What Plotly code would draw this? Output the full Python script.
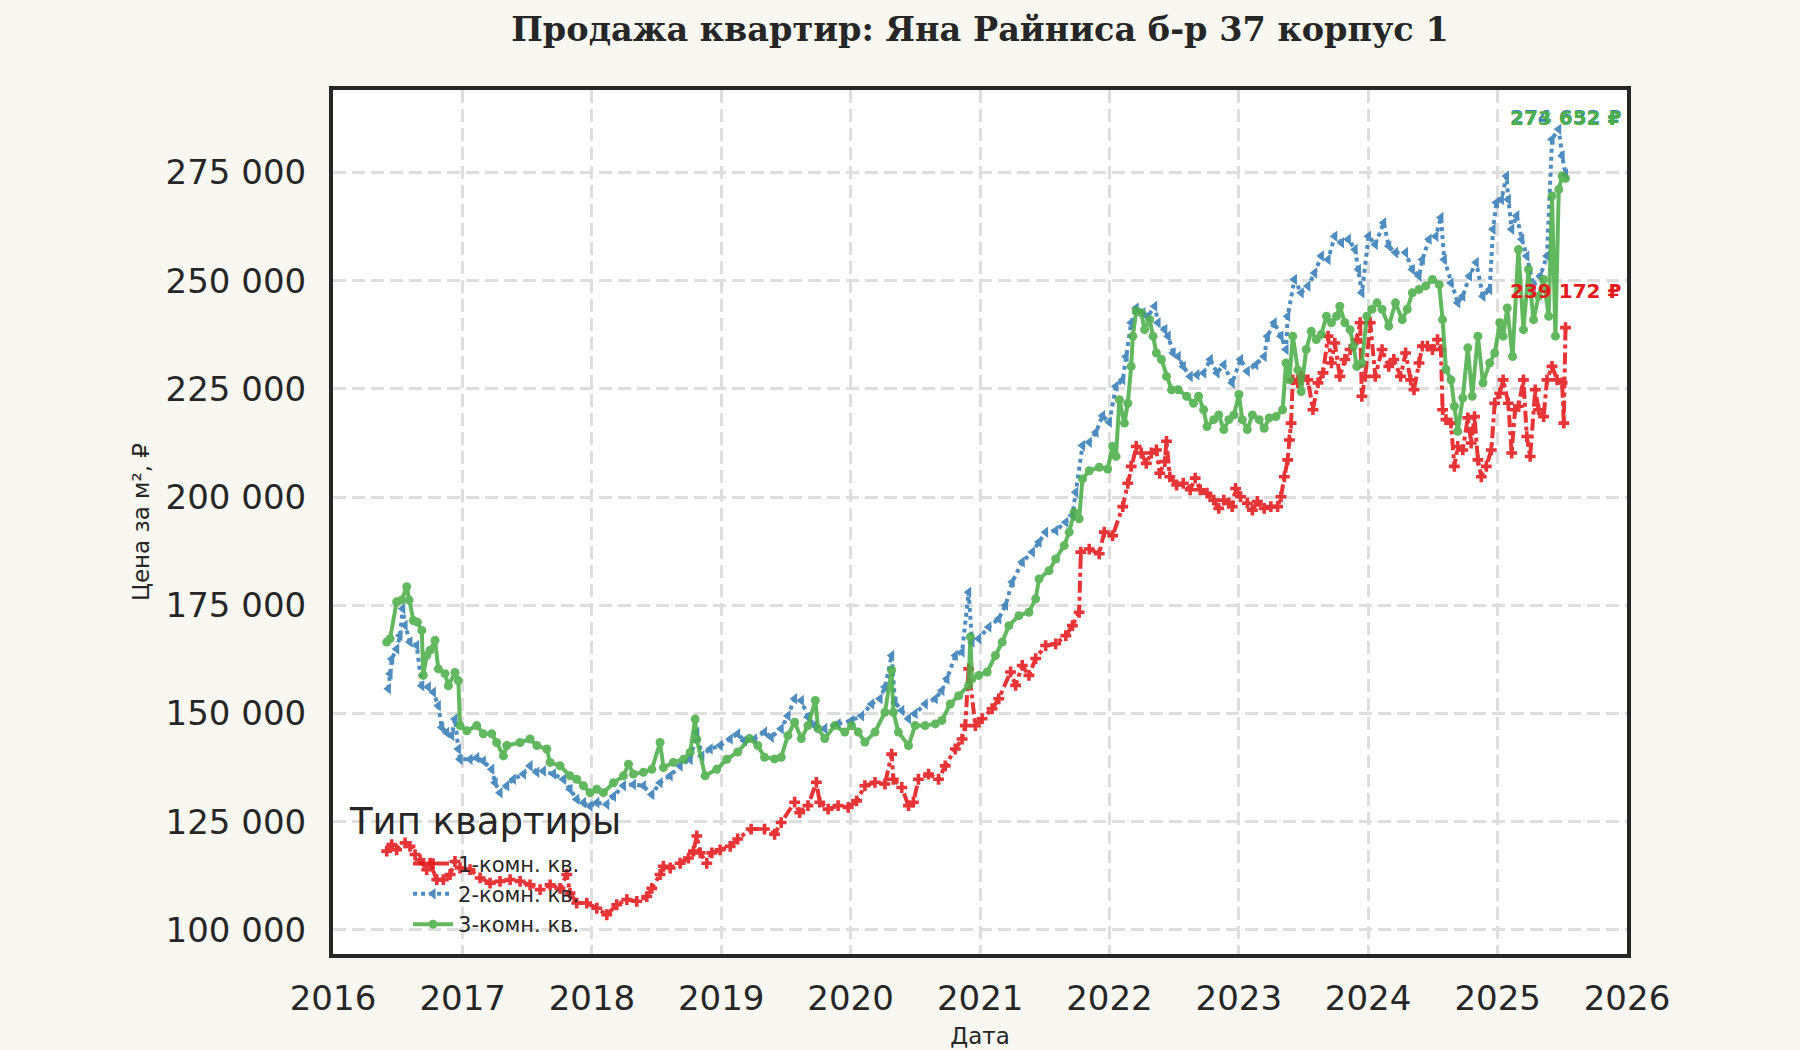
import pandas as pd
import plotly.graph_objects as go

# Цена за м² по типам квартир (время в долях года)
one_room_t = [
    2016.415, 2016.454, 2016.492, 2016.557, 2016.595, 2016.634, 2016.673, 2016.724, 2016.750, 2016.802,
    2016.853, 2016.905, 2016.943, 2016.982, 2017.059, 2017.137, 2017.214, 2017.291, 2017.369, 2017.446,
    2017.523, 2017.601, 2017.678, 2017.755, 2017.807, 2017.832, 2017.884, 2017.961, 2018.039, 2018.116,
    2018.193, 2018.271, 2018.348, 2018.425, 2018.464, 2018.528, 2018.554, 2018.606, 2018.683, 2018.747,
    2018.786, 2018.812, 2018.838, 2018.889, 2018.928, 2018.992, 2019.070, 2019.128, 2019.232, 2019.335,
    2019.413, 2019.464, 2019.568, 2019.607, 2019.671, 2019.736, 2019.762, 2019.827, 2019.904, 2019.982,
    2020.047, 2020.111, 2020.189, 2020.266, 2020.318, 2020.331, 2020.396, 2020.448, 2020.486, 2020.525,
    2020.603, 2020.680, 2020.732, 2020.810, 2020.862, 2020.887, 2020.913, 2020.965, 2021.017, 2021.094,
    2021.146, 2021.237, 2021.276, 2021.327, 2021.379, 2021.431, 2021.508, 2021.586, 2021.664, 2021.715,
    2021.767, 2021.780, 2021.845, 2021.922, 2021.961, 2022.026, 2022.104, 2022.143, 2022.169, 2022.208,
    2022.247, 2022.286, 2022.325, 2022.364, 2022.390, 2022.429, 2022.442, 2022.468, 2022.520, 2022.572,
    2022.625, 2022.664, 2022.703, 2022.755, 2022.807, 2022.846, 2022.885, 2022.924, 2022.950, 2022.976,
    2023.015, 2023.067, 2023.106, 2023.145, 2023.197, 2023.249, 2023.301, 2023.327, 2023.353, 2023.379,
    2023.392, 2023.405, 2023.418, 2023.457, 2023.483, 2023.535, 2023.574, 2023.613, 2023.652, 2023.691,
    2023.717, 2023.743, 2023.782, 2023.821, 2023.861, 2023.913, 2023.939, 2023.952, 2023.978, 2024.017,
    2024.056, 2024.108, 2024.160, 2024.199, 2024.251, 2024.290, 2024.329, 2024.355, 2024.394, 2024.420,
    2024.459, 2024.498, 2024.537, 2024.563, 2024.576, 2024.602, 2024.641, 2024.667, 2024.693, 2024.732,
    2024.771, 2024.797, 2024.823, 2024.849, 2024.875, 2024.914, 2024.953, 2024.979, 2025.018, 2025.044,
    2025.084, 2025.110, 2025.136, 2025.162, 2025.201, 2025.227, 2025.253, 2025.292, 2025.318, 2025.357,
    2025.383, 2025.422, 2025.461, 2025.500, 2025.513, 2025.526,
]
one_room_v = [
    118200, 119700, 118500, 120100, 119300, 117400, 116200, 113900, 115400, 111600,
    111600, 112800, 115800, 114300, 113900, 112000, 110800, 111200, 111600, 111200,
    110400, 109300, 110400, 109600, 112800, 108500, 106200, 106200, 105000, 103500,
    105800, 107000, 106600, 107700, 109600, 112800, 114700, 114300, 115400, 116600,
    118200, 121700, 117800, 115400, 117800, 118500, 119300, 121000, 123300, 123300,
    122100, 124800, 129500, 127100, 128700, 134100, 129500, 127900, 128700, 128300,
    129800, 133300, 134100, 133700, 140600, 134800, 132900, 128700, 129500, 134800,
    136000, 134800, 137900, 141800, 144100, 147200, 160300, 147200, 148800, 151100,
    153400, 159600, 156500, 161100, 158800, 162700, 165700, 166100, 168000, 170300,
    173400, 187300, 188000, 186900, 191900, 191100, 197800, 203200, 207100, 211700,
    210200, 207800, 210200, 210900, 205500, 208200, 212900, 204700, 202800, 203200,
    201700, 204400, 201700, 200900, 199300, 197400, 199300, 198600, 197800, 202000,
    200100, 198600, 197000, 199000, 197400, 197800, 197800, 200100, 204700, 208600,
    213200, 217100, 227100, 226400, 227900, 227100, 220200, 226400, 228700, 237200,
    231000, 235600, 227900, 231800, 234100, 236400, 240300, 223300, 227900, 240300,
    227900, 234100, 230200, 231800, 227900, 233300, 227100, 224800, 231000, 234900,
    234900, 234100, 236400, 234100, 220200, 217900, 217100, 207100, 211700, 210900,
    218300, 212500, 218600, 208600, 204700, 207100, 210900, 221700, 224000, 227100,
    221700, 210200, 220200, 221000, 227100, 214000, 209400, 224800, 220200, 218600,
    227100, 230200, 227100, 226400, 217100, 239172,
]

two_room_t = [
    2016.428, 2016.441, 2016.454, 2016.492, 2016.518, 2016.539, 2016.557, 2016.595, 2016.647, 2016.686,
    2016.737, 2016.776, 2016.814, 2016.840, 2016.879, 2016.918, 2016.943, 2016.969, 2016.982, 2017.059,
    2017.111, 2017.162, 2017.227, 2017.253, 2017.291, 2017.343, 2017.394, 2017.472, 2017.523, 2017.575,
    2017.626, 2017.704, 2017.781, 2017.832, 2017.884, 2017.936, 2017.987, 2018.039, 2018.116, 2018.168,
    2018.245, 2018.322, 2018.399, 2018.464, 2018.528, 2018.606, 2018.683, 2018.760, 2018.812, 2018.851,
    2018.915, 2018.992, 2019.070, 2019.128, 2019.180, 2019.257, 2019.335, 2019.387, 2019.464, 2019.516,
    2019.568, 2019.620, 2019.671, 2019.723, 2019.801, 2019.904, 2020.008, 2020.085, 2020.163, 2020.228,
    2020.266, 2020.318, 2020.344, 2020.396, 2020.448, 2020.499, 2020.577, 2020.655, 2020.706, 2020.745,
    2020.810, 2020.862, 2020.913, 2020.939, 2020.991, 2021.069, 2021.146, 2021.198, 2021.250, 2021.327,
    2021.405, 2021.457, 2021.508, 2021.586, 2021.664, 2021.715, 2021.741, 2021.793, 2021.845, 2021.897,
    2021.948, 2022.000, 2022.052, 2022.104, 2022.130, 2022.169, 2022.208, 2022.260, 2022.299, 2022.351,
    2022.377, 2022.429, 2022.455, 2022.494, 2022.533, 2022.572, 2022.625, 2022.677, 2022.729, 2022.781,
    2022.833, 2022.885, 2022.950, 2023.015, 2023.067, 2023.132, 2023.197, 2023.223, 2023.275, 2023.327,
    2023.366, 2023.379, 2023.431, 2023.483, 2023.535, 2023.587, 2023.639, 2023.691, 2023.743, 2023.795,
    2023.848, 2023.900, 2023.926, 2023.952, 2024.004, 2024.056, 2024.121, 2024.160, 2024.212, 2024.290,
    2024.342, 2024.394, 2024.420, 2024.472, 2024.524, 2024.563, 2024.589, 2024.641, 2024.693, 2024.732,
    2024.784, 2024.836, 2024.888, 2024.940, 2024.966, 2024.992, 2025.031, 2025.070, 2025.084, 2025.110,
    2025.149, 2025.188, 2025.227, 2025.279, 2025.331, 2025.383, 2025.422, 2025.474, 2025.500, 2025.526,
]
two_room_v = [
    155700, 159200, 162600, 164900, 168000, 174200, 170400, 166500, 165700, 156400,
    156100, 154900, 151800, 146800, 145600, 144900, 148700, 141800, 139400, 139400,
    139800, 139000, 137100, 134000, 131700, 133300, 134800, 136000, 137900, 136400,
    136700, 136000, 134800, 132500, 130200, 129400, 128600, 129400, 129000, 130900,
    133300, 133600, 133300, 131300, 134000, 135600, 137900, 139400, 145600, 140200,
    141800, 142600, 144100, 145300, 143700, 144100, 145700, 144500, 146500, 149500,
    153400, 153000, 149200, 147200, 146500, 147600, 148400, 149500, 152200, 153400,
    156100, 163400, 152600, 150700, 148800, 150000, 152200, 153400, 155300, 158000,
    163400, 164200, 178000, 166500, 167300, 170000, 171900, 175000, 180400, 185000,
    187300, 189600, 191900, 192300, 194200, 195800, 201100, 211900, 212700, 215000,
    218800, 217300, 225600, 227100, 232500, 240300, 243700, 242600, 241800, 244100,
    240300, 238700, 237200, 233300, 232500, 230200, 227900, 228300, 228700, 231800,
    228700, 230600, 226400, 231800, 229100, 230600, 232500, 237200, 240300, 237200,
    234100, 241800, 250300, 247200, 248800, 251800, 255700, 254900, 260300, 258800,
    259600, 257200, 252600, 247200, 260300, 258400, 263400, 258000, 256500, 256500,
    252600, 251100, 254900, 259600, 260300, 264600, 254900, 249500, 244900, 246400,
    251100, 254200, 246400, 248000, 261900, 268100, 268800, 274200, 268800, 261900,
    265000, 259600, 255700, 248800, 251100, 255700, 282700, 285000, 278900, 274632,
]

three_room_t = [
    2016.415, 2016.441, 2016.492, 2016.531, 2016.570, 2016.588, 2016.621, 2016.652, 2016.686, 2016.698,
    2016.724, 2016.750, 2016.789, 2016.814, 2016.866, 2016.892, 2016.943, 2016.969, 2016.982, 2017.034,
    2017.111, 2017.162, 2017.227, 2017.265, 2017.317, 2017.343, 2017.446, 2017.523, 2017.575, 2017.652,
    2017.678, 2017.755, 2017.832, 2017.884, 2017.936, 2017.987, 2018.039, 2018.090, 2018.168, 2018.245,
    2018.284, 2018.322, 2018.399, 2018.464, 2018.528, 2018.554, 2018.631, 2018.709, 2018.760, 2018.799,
    2018.812, 2018.876, 2018.966, 2019.044, 2019.128, 2019.219, 2019.283, 2019.335, 2019.413, 2019.464,
    2019.516, 2019.568, 2019.620, 2019.671, 2019.728, 2019.749, 2019.801, 2019.878, 2019.956, 2020.008,
    2020.060, 2020.111, 2020.189, 2020.266, 2020.318, 2020.331, 2020.370, 2020.448, 2020.499, 2020.577,
    2020.655, 2020.706, 2020.771, 2020.836, 2020.913, 2020.926, 2020.939, 2020.991, 2021.056, 2021.120,
    2021.172, 2021.224, 2021.301, 2021.379, 2021.431, 2021.457, 2021.534, 2021.586, 2021.651, 2021.690,
    2021.728, 2021.767, 2021.793, 2021.845, 2021.922, 2021.987, 2022.026, 2022.052, 2022.078, 2022.117,
    2022.143, 2022.169, 2022.182, 2022.208, 2022.247, 2022.273, 2022.312, 2022.338, 2022.364, 2022.403,
    2022.442, 2022.481, 2022.533, 2022.598, 2022.651, 2022.690, 2022.729, 2022.755, 2022.807, 2022.846,
    2022.885, 2022.924, 2022.963, 2023.002, 2023.028, 2023.067, 2023.106, 2023.158, 2023.197, 2023.236,
    2023.288, 2023.340, 2023.366, 2023.392, 2023.418, 2023.457, 2023.483, 2023.522, 2023.561, 2023.600,
    2023.639, 2023.678, 2023.717, 2023.756, 2023.782, 2023.821, 2023.861, 2023.887, 2023.913, 2023.952,
    2023.991, 2024.030, 2024.069, 2024.108, 2024.160, 2024.212, 2024.264, 2024.303, 2024.342, 2024.394,
    2024.446, 2024.498, 2024.550, 2024.576, 2024.602, 2024.641, 2024.667, 2024.693, 2024.732, 2024.771,
    2024.805, 2024.849, 2024.888, 2024.940, 2024.979, 2025.018, 2025.044, 2025.076, 2025.117, 2025.162,
    2025.201, 2025.240, 2025.279, 2025.318, 2025.357, 2025.396, 2025.422, 2025.448, 2025.474, 2025.500,
    2025.526,
]
three_room_v = [
    166500, 167300, 175800, 176200, 179300, 176200, 171500, 171100, 169200, 158800,
    163400, 164600, 166900, 160300, 159200, 156400, 159500, 157600, 147200, 146000,
    147200, 145300, 145300, 143300, 140200, 142600, 143300, 144100, 142600, 141800,
    138700, 137900, 135600, 134800, 133300, 131700, 132500, 131700, 134000, 135600,
    138300, 136000, 136400, 137100, 143300, 137500, 138700, 139400, 141000, 148700,
    144000, 135600, 137100, 139400, 141100, 144200, 142600, 139900, 139500, 139900,
    144900, 148000, 144200, 147200, 153000, 146500, 144200, 147200, 145700, 147200,
    145700, 143400, 145700, 150300, 160000, 150300, 145700, 142600, 147200, 147200,
    147600, 148400, 152200, 154100, 156500, 167700, 158000, 158800, 159600, 163400,
    166500, 170300, 172600, 173400, 176500, 181100, 183000, 185700, 188800, 191900,
    196500, 195000, 204200, 206100, 206900, 206500, 211700, 209400, 222500, 217100,
    221700, 230200, 237200, 243000, 242600, 238700, 241000, 237200, 233300, 231800,
    227900, 224800, 224800, 223300, 221700, 223300, 220200, 216300, 217900, 219000,
    215600, 217900, 219000, 223700, 217900, 215600, 219000, 217900, 215900, 218300,
    218600, 220200, 231000, 227100, 237200, 229400, 224400, 234100, 238300, 236400,
    237600, 241800, 240300, 241800, 244100, 240300, 238700, 234900, 230200, 231000,
    241800, 243400, 244900, 243400, 239500, 244900, 241000, 243400, 247200, 248000,
    248800, 250300, 249100, 241000, 229500, 227100, 221000, 215200, 222900, 234500,
    223300, 237200, 226400, 231000, 233300, 240300, 237200, 243700, 232500, 257200,
    238700, 252600, 241000, 246400, 250300, 241800, 269600, 237200, 271100, 274200,
    273652,
]

series_names = ["1-комн. кв.", "2-комн. кв.", "3-комн. кв."]
y_ticks = [100000, 125000, 150000, 175000, 200000, 225000, 250000, 275000]
x_years = list(range(2016, 2027))

TEXT = "#262626"
BG = "#f8f7f2"
styles = [
    dict(color="#e41a1c", dash="dashdot", symbol="cross", size=9),
    dict(color="#377eb8", dash="dot", symbol="triangle-left", size=10),
    dict(color="#4daf4a", dash="solid", symbol="circle", size=9),
]
label_shift = [37, 57, 60]


def to_dates(years):
    s = pd.Series(years)
    return pd.Timestamp("2016-01-01") + pd.to_timedelta((s - 2016) * 365.25, unit="D")


data = [(one_room_t, one_room_v), (two_room_t, two_room_v), (three_room_t, three_room_v)]

fig = go.Figure()
for (t, v), name, st in zip(data, series_names, styles):
    fig.add_trace(go.Scatter(
        x=to_dates(t), y=v, name=name, mode="lines+markers",
        opacity=0.88,
        line=dict(color=st["color"], width=4, dash=st["dash"]),
        marker=dict(symbol=st["symbol"], size=st["size"], color=st["color"], line=dict(width=0)),
    ))

# подписи последних значений
for (t, v), st, shift in zip(data, styles, label_shift):
    fig.add_annotation(
        x=to_dates(t).iloc[-1], y=v[-1], yshift=shift,
        text=f"{v[-1]:,} ₽".replace(",", " "), showarrow=False,
        xanchor="center", yanchor="middle",
        font=dict(family="DejaVu Sans", size=20, color=st["color"], weight="bold"),
    )

fig.add_annotation(
    xref="paper", yref="paper", x=0.011, y=0.153, text="Тип квартиры",
    showarrow=False, xanchor="left", yanchor="middle",
    font=dict(family="DejaVu Sans", size=37, color=TEXT),
)

all_v = one_room_v + two_room_v + three_room_v
span = max(all_v) - min(all_v)
y_range = [min(all_v) - 0.05 * span, max(all_v) + 0.05 * span]

fig.update_layout(
    width=1800, height=1050,
    margin=dict(l=333, r=173, t=90, b=96),
    paper_bgcolor=BG, plot_bgcolor="white",
    separators=". ",
    font=dict(family="DejaVu Sans", color=TEXT),
    title=dict(
        text="<b>Продажа квартир: Яна Райниса б-р 37 корпус 1</b>",
        font=dict(family="DejaVu Serif", size=33.5, color=TEXT),
        x=0.5, xref="paper", xanchor="center", y=0.972, yref="container", yanchor="middle",
    ),
    showlegend=True,
    legend=dict(
        x=0.058, y=0.128, xanchor="left", yanchor="top",
        bgcolor="rgba(0,0,0,0)", font=dict(size=21, color=TEXT),
        tracegroupgap=0, itemwidth=40,
    ),
    xaxis=dict(
        type="date", range=["2016-01-01", "2026-01-01"], automargin=False,
        tickvals=[f"{y}-01-01" for y in x_years], ticktext=[str(y) for y in x_years],
        tickfont=dict(size=34, color=TEXT),
        ticks="outside", ticklen=11, tickcolor="rgba(0,0,0,0)",
        showgrid=True, gridcolor="#dedede", gridwidth=2.5, griddash="13px,6px",
        showline=True, mirror=True, linecolor=TEXT, linewidth=4,
        title=dict(text="Дата", font=dict(size=23, color=TEXT), standoff=12),
        zeroline=False,
    ),
    yaxis=dict(
        range=y_range, tickvals=y_ticks, tickformat=",d", automargin=False,
        tickfont=dict(size=34, color=TEXT),
        ticks="outside", ticklen=16, tickcolor="rgba(0,0,0,0)",
        showgrid=True, gridcolor="#dedede", gridwidth=2.5, griddash="13px,6px",
        showline=True, mirror=True, linecolor=TEXT, linewidth=4,
        title=dict(text="Цена за м², ₽", font=dict(size=23, color=TEXT), standoff=11),
        zeroline=False,
    ),
)

fig.write_html(
    "out.html",
    config={"displayModeBar": False},
    post_script="document.body.style.margin='0';document.body.style.background='%s';" % BG,
)
